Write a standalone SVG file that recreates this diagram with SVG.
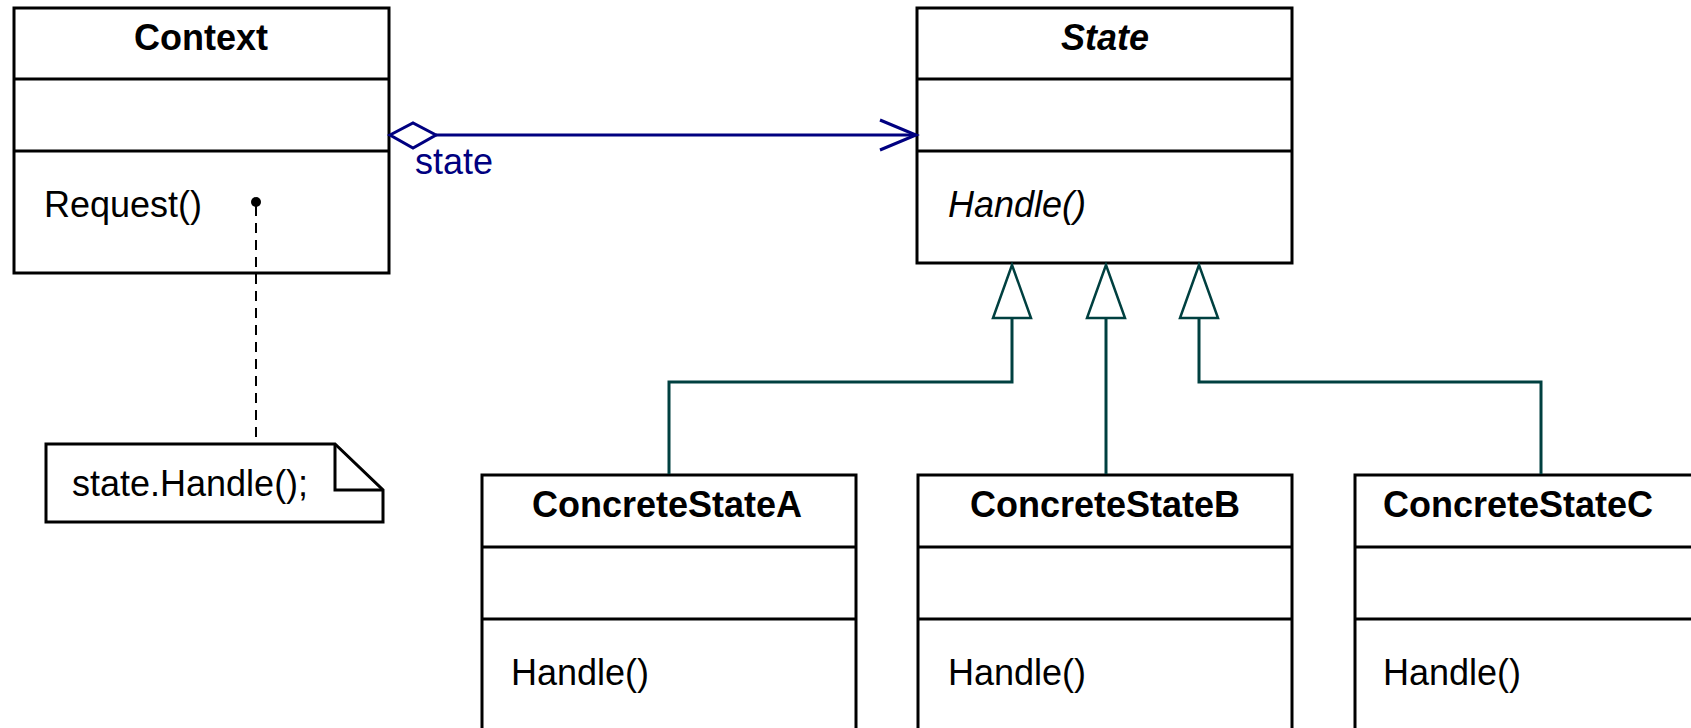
<svg xmlns="http://www.w3.org/2000/svg" width="1691" height="728" viewBox="0 0 1691 728">
<style>
.box{fill:#fff;stroke:#000;stroke-width:3}
.div{stroke:#000;stroke-width:3}
.t{font-family:"Liberation Sans",Arial,sans-serif;font-size:36px;fill:#000}
.b{font-weight:bold}
.i{font-style:italic}
.agg{stroke:#000080;stroke-width:3;fill:none}
.gen{stroke:#004040;stroke-width:3;fill:none}
.tri{stroke:#004040;stroke-width:2.5;fill:#fff}
</style>
<rect width="1691" height="728" fill="#fff"/>
<g id="context">
  <rect class="box" x="14" y="8" width="375" height="265"/>
  <line class="div" x1="14" y1="79" x2="389" y2="79"/>
  <line class="div" x1="14" y1="151" x2="389" y2="151"/>
  <text class="t b" x="201" y="50" text-anchor="middle">Context</text>
  <text class="t" x="44" y="217">Request()</text>
</g>
<g id="state">
  <rect class="box" x="917" y="8" width="375" height="255"/>
  <line class="div" x1="917" y1="79" x2="1292" y2="79"/>
  <line class="div" x1="917" y1="151" x2="1292" y2="151"/>
  <text class="t b i" x="1105" y="50" text-anchor="middle">State</text>
  <text class="t i" x="948" y="217">Handle()</text>
</g>
<g id="note">
  <path d="M46,444 L335,444 L383,490 L383,522 L46,522 Z" fill="#fff" stroke="#000" stroke-width="3"/>
  <polyline points="335,444 335,490 383,490" fill="none" stroke="#000" stroke-width="3"/>
  <text class="t" x="72" y="496">state.Handle();</text>
</g>
<g id="concreteStateA">
  <rect class="box" x="482" y="475" width="374" height="270"/>
  <line class="div" x1="482" y1="547" x2="856" y2="547"/>
  <line class="div" x1="482" y1="619" x2="856" y2="619"/>
  <text class="t b" x="667" y="517" text-anchor="middle">ConcreteStateA</text>
  <text class="t" x="511" y="685">Handle()</text>
</g>
<g id="concreteStateB">
  <rect class="box" x="918" y="475" width="374" height="270"/>
  <line class="div" x1="918" y1="547" x2="1292" y2="547"/>
  <line class="div" x1="918" y1="619" x2="1292" y2="619"/>
  <text class="t b" x="1105" y="517" text-anchor="middle">ConcreteStateB</text>
  <text class="t" x="948" y="685">Handle()</text>
</g>
<g id="concreteStateC">
  <rect class="box" x="1355" y="475" width="374" height="270"/>
  <line class="div" x1="1355" y1="547" x2="1729" y2="547"/>
  <line class="div" x1="1355" y1="619" x2="1729" y2="619"/>
  <text class="t b" x="1383" y="517">ConcreteStateC</text>
  <text class="t" x="1383" y="685">Handle()</text>
</g>
<g id="connectors">
  <line x1="256" y1="206" x2="256" y2="443" stroke="#000" stroke-width="2" stroke-dasharray="10,7"/>
  <circle cx="256" cy="202" r="5" fill="#000"/>
  <line class="agg" x1="436" y1="135" x2="916" y2="135"/>
  <polygon class="agg" points="390,135 413,123 436,135 413,148" style="fill:#fff"/>
  <polyline class="agg" stroke-width="2.5" points="880,120 916,135 880,150"/>
  <text class="t" x="415" y="174" style="fill:#000080">state</text>
  <polyline class="gen" points="1012,318 1012,382 669,382 669,474"/>
  <polyline class="gen" points="1106,318 1106,474"/>
  <polyline class="gen" points="1199,318 1199,382 1541,382 1541,474"/>
  <polygon class="tri" points="1012,265 993,318 1031,318"/>
  <polygon class="tri" points="1106,265 1087,318 1125,318"/>
  <polygon class="tri" points="1199,265 1180,318 1218,318"/>
</g>
</svg>
